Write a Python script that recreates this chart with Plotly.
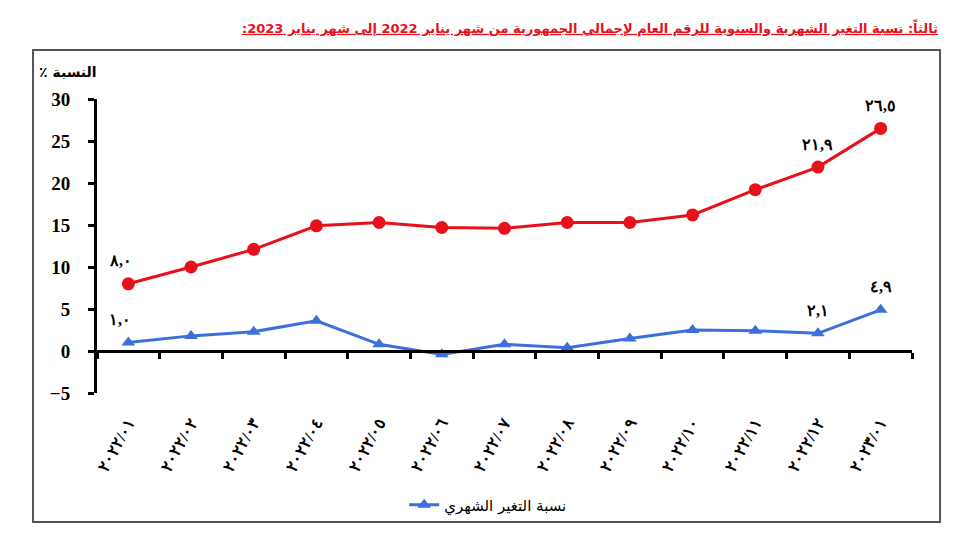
import plotly.graph_objects as go

# ---- data ----
months = ["٢٠٢٢/٠١", "٢٠٢٢/٠٢", "٢٠٢٢/٠٣", "٢٠٢٢/٠٤", "٢٠٢٢/٠٥", "٢٠٢٢/٠٦",
          "٢٠٢٢/٠٧", "٢٠٢٢/٠٨", "٢٠٢٢/٠٩", "٢٠٢٢/١٠", "٢٠٢٢/١١", "٢٠٢٢/١٢", "٢٠٢٣/٠١"]
annual_change = [8.0, 10.0, 12.1, 14.9, 15.3, 14.7, 14.6, 15.3, 15.3, 16.2, 19.2, 21.9, 26.5]
monthly_change = [1.0, 1.8, 2.3, 3.6, 0.8, -0.4, 0.8, 0.4, 1.5, 2.5, 2.4, 2.1, 4.9]
annual_labeled = [0, 11, 12]
monthly_labeled = [0, 11, 12]
y_ticks = [-5, 0, 5, 10, 15, 20, 25, 30]

title_text = "ثالثاً: نسبة التغير الشهرية والسنوية للرقم العام لإجمالي الجمهورية من شهر يناير 2022 إلى شهر يناير 2023:"
y_title = "٪ النسبة"
legend_name = "نسبة التغير الشهري"

AR_DIGITS = str.maketrans("0123456789", "٠١٢٣٤٥٦٧٨٩")


def ar_num(v):
    return f"{v:.1f}".replace(".", ",").translate(AR_DIGITS)


x_idx = list(range(len(months)))
RED = "#e8101a"
BLUE = "#3a6fdc"
SERIF = "Liberation Serif"

fig = go.Figure()
fig.add_trace(go.Scatter(
    x=x_idx, y=annual_change, mode="lines+markers", xaxis="x2",
    line=dict(color=RED, width=3), marker=dict(symbol="circle", size=13, color=RED),
    showlegend=False, name="نسبة التغير السنوي"))
fig.add_trace(go.Scatter(
    x=x_idx, y=monthly_change, mode="lines+markers",
    line=dict(color=BLUE, width=3), marker=dict(symbol="triangle-up", size=12, color=BLUE),
    showlegend=True, name=legend_name))

for series, idxs, axis in ((annual_change, annual_labeled, "x2"), (monthly_change, monthly_labeled, "x")):
    for i in idxs:
        fig.add_annotation(x=x_idx[i], y=series[i], xref=axis, yref="y",
                           text="<b>" + ar_num(series[i]) + "</b>", showarrow=False,
                           yshift=23, xshift=(-8 if i == 0 else 0),
                           font=dict(family=SERIF, size=16, color="black"))

rng = [-0.5, len(months) - 0.5]
fig.update_layout(
    width=952, height=552,
    margin=dict(l=89, r=48, t=91, b=167),
    paper_bgcolor="white", plot_bgcolor="white",
    xaxis=dict(range=rng, tickmode="array", tickvals=x_idx,
               ticktext=["<b>" + m + "</b>" for m in months],
               tickangle=-61, showline=False, showgrid=False, zeroline=False,
               ticks="", ticklabelstandoff=16,
               tickfont=dict(family=SERIF, size=16, color="black")),
    xaxis2=dict(range=rng, overlaying="x", anchor="free", position=5 / 35,
                tickmode="array", tickvals=[i - 0.5 for i in x_idx] + [x_idx[-1] + 0.5],
                showticklabels=False, ticks="outside", ticklen=6, tickwidth=3, tickcolor="black",
                showline=True, linewidth=3, linecolor="black", showgrid=False, zeroline=False),
    yaxis=dict(range=[-5, 30], tickmode="array", tickvals=y_ticks,
               ticktext=["<b>" + (("−" + str(-v)) if v < 0 else str(v)) + "</b>" for v in y_ticks],
               showline=True, linewidth=3, linecolor="black",
               ticks="outside", ticklen=6, tickwidth=3, tickcolor="black",
               ticklabelstandoff=14,
               showgrid=False, zeroline=False,
               tickfont=dict(family=SERIF, size=19, color="black")),
    legend=dict(x=0.48, xanchor="center", y=-0.381, yanchor="middle",
                orientation="h", bgcolor="rgba(0,0,0,0)",
                font=dict(family="DejaVu Sans", size=15, color="black")),
    showlegend=True,
)

# outer frame
fig.add_shape(type="rect", xref="paper", yref="paper", x0=-0.0785, x1=1.0344,
              y0=-0.4388, y1=1.1667, line=dict(color="#555555", width=2), layer="below")

fig.add_annotation(xref="paper", yref="paper", x=1.0344, xanchor="right",
                   y=(393 - 28) / 294, yanchor="middle", showarrow=False,
                   text="<b><u>" + title_text + "\u200f</u></b>",
                   font=dict(family="DejaVu Sans", size=13, color="#e8101a"))
fig.add_annotation(xref="paper", yref="paper", x=(68 - 97) / 815, xanchor="center",
                   y=(393 - 72) / 294, yanchor="middle", showarrow=False,
                   text="<b>" + y_title + "</b>",
                   font=dict(family="DejaVu Sans", size=14, color="black"))

fig.write_html("out.html")
